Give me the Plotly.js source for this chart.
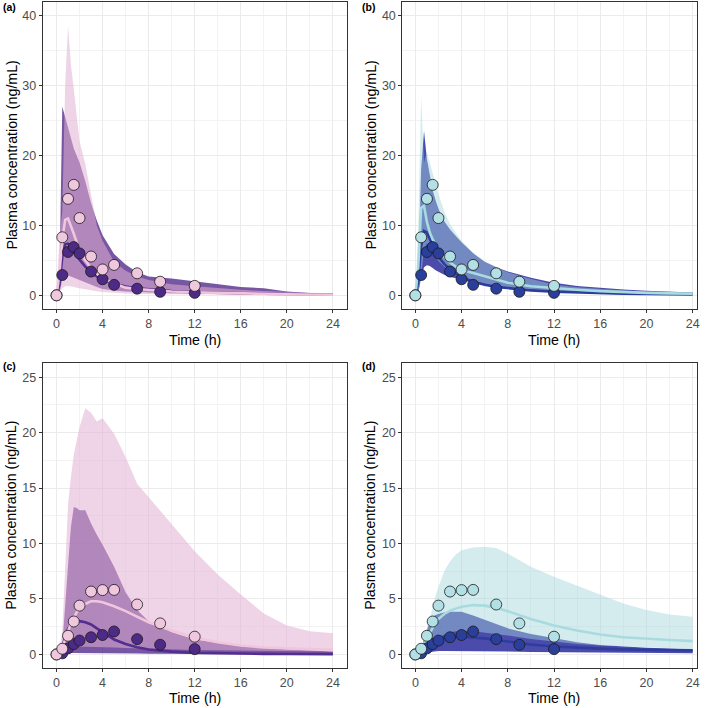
<!DOCTYPE html>
<html>
<head>
<meta charset="utf-8">
<script src="https://cdn.plot.ly/plotly-3.0.1.min.js"></script>
<style>
  html, body { margin: 0; padding: 0; background: #fff; }
  #chart { width: 709px; height: 708px; }
</style>
</head>
<body>
<div id="chart"></div>
<script>
// observed concentrations (same in both panels of a row)
const obsTime = [0, 0.5, 1, 1.5, 2, 3, 4, 5, 7, 9, 12];
const topLightObs = [0, 8.3, 13.8, 15.8, 11.05, 5.55, 3.7, 4.35, 3.15, 1.95, 1.35];
const topDarkObs = [0, 2.9, 6.2, 6.9, 6.0, 3.4, 2.3, 1.5, 0.95, 0.5, 0.35];
const botLightObs = [0, 0.51, 1.68, 2.97, 4.4, 5.67, 5.8, 5.82, 4.5, 2.8, 1.6];
const botDarkObs = [0, 0.1, 0.55, 0.93, 1.25, 1.55, 1.75, 2.07, 1.38, 0.87, 0.48];

// simulated profiles: lower / upper interval and median
const simTime = [0, 0.25, 0.5, 0.75, 1, 1.25, 1.5, 1.75, 2, 2.5, 3, 3.5, 4, 5, 6, 7, 8, 10, 12, 14, 16, 18, 20, 22, 24];

const aDarkLo = [0, 0.3, 2.2, 2.7, 2.8, 2.7, 2.55, 2.4, 2.25, 1.9, 1.55, 1.2, 0.9, 0.68, 0.55, 0.45, 0.38, 0.28, 0.21, 0.16, 0.13, 0.1, 0.08, 0.07, 0.06];
const aDarkHi = [0, 2, 27, 25.5, 24, 22.2, 21, 20, 19, 16.3, 13.2, 10.7, 8.6, 5.9, 4.4, 3.3, 2.7, 2.4, 2.0, 1.6, 1.2, 1.0, 0.55, 0.32, 0.3];
const aDarkMed = [0, 1.5, 5.5, 7.3, 7.4, 6.9, 6.3, 5.7, 5.1, 4.1, 3.3, 2.7, 2.3, 1.65, 1.25, 1.0, 0.85, 0.6, 0.45, 0.35, 0.28, 0.22, 0.18, 0.15, 0.12];
const aLightLo = [0, 0.4, 1.0, 1.3, 1.35, 1.3, 1.2, 1.1, 1.0, 0.85, 0.7, 0.57, 0.47, 0.33, 0.25, 0.2, 0.16, 0.11, 0.08, 0.06, 0.05, 0.04, 0.03, 0.02, 0.02];
const aLightHi = [0, 8, 12, 30, 38.5, 33, 29.5, 25.5, 22, 18.8, 14.5, 10.0, 7.8, 4.8, 3.5, 2.7, 2.2, 1.6, 1.3, 1.0, 0.8, 0.6, 0.45, 0.35, 0.28];
const aLightMed = [0, 3, 8, 10.8, 11.0, 10.0, 8.8, 7.6, 6.6, 5.0, 3.9, 3.1, 2.5, 1.7, 1.1, 0.9, 0.75, 0.55, 0.42, 0.33, 0.26, 0.2, 0.15, 0.12, 0.1];

const bDarkLo = [0, 0.3, 2.5, 4.0, 4.3, 4.2, 3.9, 3.6, 3.35, 2.95, 2.65, 2.4, 2.15, 1.75, 1.45, 1.2, 1.0, 0.7, 0.5, 0.37, 0.28, 0.21, 0.16, 0.12, 0.09];
const bDarkHi = [0, 3, 18, 23.5, 19.5, 17, 15, 13.6, 12.4, 10.6, 9.4, 8.5, 7.6, 6.0, 4.8, 4.0, 3.4, 2.5, 1.8, 1.35, 1.05, 0.85, 0.65, 0.5, 0.4];
const bDarkMed = [0, 2, 7, 9.2, 9.0, 8.0, 7.0, 6.2, 5.5, 4.5, 3.7, 3.1, 2.6, 1.95, 1.5, 1.2, 1.0, 0.7, 0.5, 0.38, 0.3, 0.23, 0.18, 0.14, 0.11];
const bLightLo = [0, 0.5, 3, 6.5, 7.5, 6.8, 6.0, 5.4, 4.9, 4.1, 3.5, 3.0, 2.65, 2.1, 1.7, 1.4, 1.15, 0.8, 0.6, 0.45, 0.35, 0.27, 0.21, 0.17, 0.14];
const bLightHi = [0, 10, 28.5, 19, 20.5, 18.8, 17.5, 16, 14.5, 12, 10.2, 8.9, 7.8, 6.1, 4.9, 4.0, 3.3, 2.35, 1.55, 1.15, 0.9, 0.7, 0.55, 0.45, 0.4];
const bLightMed = [0, 4, 12.5, 12.8, 10.5, 9.0, 8.0, 7.2, 6.5, 5.5, 4.7, 4.1, 3.6, 3.2, 2.7, 2.2, 1.8, 1.3, 1.0, 0.8, 0.6, 0.45, 0.35, 0.28, 0.22];

const cDarkLo = [0, 0.01, 0.03, 0.06, 0.1, 0.12, 0.14, 0.15, 0.16, 0.16, 0.15, 0.14, 0.13, 0.11, 0.09, 0.08, 0.07, 0.05, 0.04, 0.03, 0.03, 0.02, 0.02, 0.01, 0.01];
const cDarkHi = [0, 0.2, 0.8, 4, 8, 11.5, 13.3, 13.2, 13.0, 13.0, 11.8, 10.8, 9.9, 7.9, 5.6, 4.0, 3.0, 2.0, 1.35, 1.05, 0.8, 0.6, 0.45, 0.35, 0.27];
const cDarkMed = [0, 0.2, 0.7, 1.5, 2.3, 2.7, 2.9, 3.0, 3.0, 2.9, 2.7, 2.35, 2.0, 1.35, 0.95, 0.65, 0.45, 0.25, 0.14, 0.09, 0.06, 0.05, 0.04, 0.03, 0.03];
const cLightLo = [0, 0.05, 0.15, 0.3, 0.45, 0.55, 0.62, 0.66, 0.68, 0.7, 0.7, 0.69, 0.67, 0.62, 0.57, 0.53, 0.5, 0.44, 0.4, 0.37, 0.34, 0.32, 0.3, 0.28, 0.27];
const cLightHi = [0, 0.5, 2, 8, 13.5, 16, 18, 19.3, 20.5, 22.2, 21.8, 21.0, 21.3, 19.9, 17.8, 15.4, 14.2, 11.8, 9.3, 7.2, 5.4, 3.7, 2.6, 2.1, 1.9];
const cLightMed = [0, 0.2, 0.6, 1.3, 2.1, 2.8, 3.3, 3.8, 4.1, 4.55, 4.8, 4.8, 4.7, 4.35, 3.9, 3.4, 2.9, 2.15, 1.5, 1.1, 0.8, 0.63, 0.55, 0.48, 0.42];

const dDarkLo = [0, 0.01, 0.04, 0.1, 0.17, 0.22, 0.25, 0.28, 0.3, 0.32, 0.33, 0.33, 0.33, 0.32, 0.3, 0.28, 0.26, 0.23, 0.2, 0.18, 0.16, 0.14, 0.13, 0.12, 0.11];
const dDarkHi = [0, 0.1, 0.5, 1.3, 2.3, 3.0, 3.35, 3.55, 3.65, 3.8, 3.85, 3.87, 3.85, 3.5, 3.1, 2.7, 2.35, 1.85, 1.45, 1.1, 0.85, 0.7, 0.6, 0.53, 0.48];
const dDarkMed = [0, 0.05, 0.2, 0.5, 0.85, 1.15, 1.3, 1.4, 1.45, 1.52, 1.57, 1.6, 1.6, 1.55, 1.45, 1.3, 1.15, 0.9, 0.72, 0.6, 0.52, 0.46, 0.42, 0.38, 0.36];
const dLightLo = [0, 0.04, 0.15, 0.4, 0.7, 0.95, 1.2, 1.4, 1.55, 1.8, 2.0, 2.1, 2.15, 2.1, 2.0, 1.85, 1.7, 1.4, 1.15, 0.95, 0.8, 0.7, 0.62, 0.56, 0.5];
const dLightHi = [0, 0.1, 0.5, 1.5, 2.5, 3.3, 4.2, 5.3, 6.1, 7.5, 8.4, 9.0, 9.4, 9.65, 9.7, 9.6, 9.1, 7.9, 7.0, 6.2, 5.4, 4.6, 4.0, 3.6, 3.4];
const dLightMed = [0, 0.1, 0.4, 0.9, 1.5, 2.0, 2.5, 2.9, 3.2, 3.65, 3.95, 4.15, 4.3, 4.45, 4.4, 4.2, 3.9, 3.2, 2.6, 2.15, 1.8, 1.55, 1.4, 1.3, 1.2];

const xTicks = [0, 4, 8, 12, 16, 20, 24];

const purplePal = {
  darkBand: "rgba(85,45,140,0.8)", lightBand: "rgba(226,175,210,0.55)",
  darkLine: "#532d8f", lightLine: "#f1c5dd", darkPt: "#4e2a87", lightPt: "#f0c8de"
};
const bluePal = {
  darkBand: "rgba(50,50,160,0.88)", lightBand: "rgba(162,213,220,0.45)",
  darkLine: "#2d3d9d", lightLine: "#a8dbe0", darkPt: "#2a3f9b", lightPt: "#b3e0e4"
};

const FONT = "Liberation Sans, Arial, sans-serif";

function band(lo, hi, color, xa, ya) {
  return {
    type: "scatter", mode: "lines",
    x: simTime.concat(simTime.slice().reverse()),
    y: hi.concat(lo.slice().reverse()),
    fill: "toself", fillcolor: color,
    line: { width: 0, color: "rgba(0,0,0,0)" },
    hoverinfo: "skip", showlegend: false, xaxis: xa, yaxis: ya,
  };
}

function median(values, color, xa, ya) {
  return {
    type: "scatter", mode: "lines", x: simTime, y: values,
    line: { width: 2.6, color: color },
    hoverinfo: "skip", showlegend: false, xaxis: xa, yaxis: ya,
  };
}

function points(values, color, xa, ya) {
  return {
    type: "scatter", mode: "markers", x: obsTime, y: values,
    marker: { size: 11, color: color, line: { width: 0.8, color: "#1a1a1a" } },
    hovertemplate: "%{x} h: %{y} ng/mL<extra></extra>", showlegend: false, xaxis: xa, yaxis: ya,
  };
}

function panel(sim, obsLight, obsDark, pal, xa, ya) {
  return [
    band(sim.darkLo, sim.darkHi, pal.darkBand, xa, ya),
    band(sim.lightLo, sim.lightHi, pal.lightBand, xa, ya),
    median(sim.darkMed, pal.darkLine, xa, ya),
    median(sim.lightMed, pal.lightLine, xa, ya),
    points(obsDark, pal.darkPt, xa, ya),
    points(obsLight, pal.lightPt, xa, ya),
  ];
}

const traces = [
  ...panel({ darkLo: aDarkLo, darkHi: aDarkHi, darkMed: aDarkMed, lightLo: aLightLo, lightHi: aLightHi, lightMed: aLightMed },
    topLightObs, topDarkObs, purplePal, "x", "y"),
  ...panel({ darkLo: bDarkLo, darkHi: bDarkHi, darkMed: bDarkMed, lightLo: bLightLo, lightHi: bLightHi, lightMed: bLightMed },
    topLightObs, topDarkObs, bluePal, "x2", "y2"),
  ...panel({ darkLo: cDarkLo, darkHi: cDarkHi, darkMed: cDarkMed, lightLo: cLightLo, lightHi: cLightHi, lightMed: cLightMed },
    botLightObs, botDarkObs, purplePal, "x3", "y3"),
  ...panel({ darkLo: dDarkLo, darkHi: dDarkHi, darkMed: dDarkMed, lightLo: dLightLo, lightHi: dLightHi, lightMed: dLightMed },
    botLightObs, botDarkObs, bluePal, "x4", "y4"),
];

const W = 709, H = 708;
const px = (a, b) => [a / W, b / W];
const py = (top, bottom) => [1 - bottom / H, 1 - top / H];

function axisBase() {
  return {
    showline: true, mirror: true, linecolor: "#333333", linewidth: 1,
    ticks: "outside", ticklen: 3, tickwidth: 1, tickcolor: "#333333",
    showgrid: true, gridcolor: "#ebebeb", gridwidth: 1,
    zeroline: false, fixedrange: true,
    tickfont: { family: FONT, size: 12.5, color: "#4d4d4d" },
  };
}
function xAxis(domain, range, anchor) {
  return { ...axisBase(), domain, range, anchor, tickvals: xTicks,
    minor: { showgrid: true, gridcolor: "#f3f3f3", gridwidth: 0.6, dtick: 2, tick0: 0 } };
}
function yAxis(domain, range, dtick, anchor) {
  return { ...axisBase(), domain, range, anchor, tick0: 0, dtick: dtick,
    minor: { showgrid: true, gridcolor: "#f3f3f3", gridwidth: 0.6, dtick: dtick / 2, tick0: 0 } };
}

const leftX = px(42.7, 346.7), rightX = px(402.3, 696.7);
const topY = py(1.7, 309.3), botY = py(363.3, 668.3);

function label(text, x, y, opts) {
  return { text, x: x / W, y: 1 - y / H, xref: "paper", yref: "paper", showarrow: false,
    xanchor: "center", yanchor: "middle",
    font: { family: FONT, size: 14.2, color: "#000" }, ...opts };
}

const tagFont = { family: FONT, size: 10.5, color: "#000" };
const annotations = [
  label("<b>(a)</b>", 9, 7.5, { font: tagFont }),
  label("<b>(b)</b>", 368, 7.5, { font: tagFont }),
  label("<b>(c)</b>", 9, 366, { font: tagFont }),
  label("<b>(d)</b>", 368, 366, { font: tagFont }),
  label("Time (h)", 195, 339.5),
  label("Time (h)", 554, 339.5),
  label("Time (h)", 195, 698),
  label("Time (h)", 554, 698),
  label("Plasma concentration (ng/mL)", 11, 155.5, { textangle: -90 }),
  label("Plasma concentration (ng/mL)", 370, 155.5, { textangle: -90 }),
  label("Plasma concentration (ng/mL)", 11, 515.8, { textangle: -90 }),
  label("Plasma concentration (ng/mL)", 370, 515.8, { textangle: -90 }),
];

const layout = {
  width: W, height: H, autosize: false,
  margin: { l: 0, r: 0, t: 0, b: 0 },
  paper_bgcolor: "#ffffff", plot_bgcolor: "#ffffff",
  showlegend: false, hovermode: "closest",
  xaxis: xAxis(leftX, [-1.2, 25.2], "y"),
  yaxis: yAxis(topY, [-2, 42], 10, "x"),
  xaxis2: xAxis(rightX, [-1.13, 24.35], "y2"),
  yaxis2: yAxis(topY, [-2, 42], 10, "x2"),
  xaxis3: xAxis(leftX, [-1.2, 25.2], "y3"),
  yaxis3: yAxis(botY, [-1.25, 26.25], 5, "x3"),
  xaxis4: xAxis(rightX, [-1.13, 24.35], "y4"),
  yaxis4: yAxis(botY, [-1.25, 26.25], 5, "x4"),
  annotations,
};

Plotly.newPlot("chart", traces, layout, { displayModeBar: false });
</script>
</body>
</html>
